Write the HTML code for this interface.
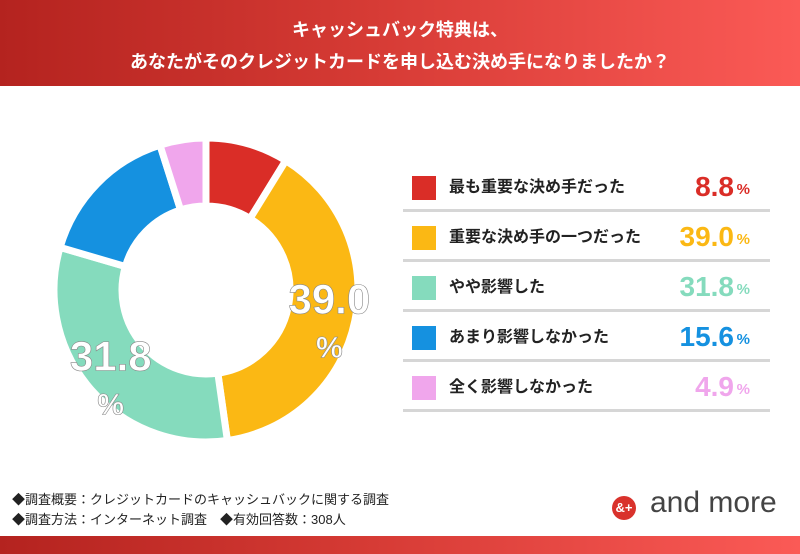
<!DOCTYPE html>
<html><head><meta charset="utf-8"><style>
body{margin:0;width:800px;height:554px;overflow:hidden;background:#fff;font-family:"Liberation Sans","Noto Sans CJK JP",sans-serif;position:relative}
.hdr{position:absolute;left:0;top:0;width:800px;height:86px;background:linear-gradient(90deg,#b4231f,#d53a34 45%,#fb5a56);color:#fff;text-align:center;font-weight:bold;font-size:18px;line-height:32px;padding-top:14px;box-sizing:border-box}
.bot{position:absolute;left:0;top:536px;width:800px;height:18px;background:linear-gradient(90deg,#b4231f,#d53a34 45%,#fb5a56)}
.row{position:absolute;left:403px;width:367px;height:50px;border-bottom:3px solid #d6d6d6;box-sizing:border-box}
.sw{position:absolute;left:9px;top:14px;width:24px;height:24px}
.lb{position:absolute;left:46px;top:14px;font-size:16px;font-weight:bold;color:#222;line-height:24px}
.v{position:absolute;right:36px;top:9px;font-size:28px;font-weight:bold;line-height:32px;font-family:"Liberation Sans",sans-serif}
.p{position:absolute;right:20px;top:18px;font-size:15px;font-weight:bold;line-height:20px}
.ft{position:absolute;left:12px;font-size:13px;color:#222}
</style></head><body>
<div class="hdr">キャッシュバック特典は、<br>あなたがそのクレジットカードを申し込む決め手になりましたか？</div>
<svg id="pie" width="400" height="460" style="position:absolute;left:0;top:86px"></svg>
<div id="legend"></div>
<div class="ft" style="top:489px">◆調査概要：クレジットカードのキャッシュバックに関する調査</div>
<div class="ft" style="top:509px">◆調査方法：インターネット調査　◆有効回答数：308人</div>
<div style="position:absolute;left:612px;top:496px">
<div style="position:absolute;left:0;top:0;width:24px;height:24px;border-radius:50%;background:#d9322c;color:#fff;font-size:13px;font-weight:bold;text-align:center;line-height:24px">&amp;+</div>
<div style="position:absolute;left:38px;top:-10px;font-size:30px;color:#444;white-space:nowrap">and more</div></div>
<div class="bot"></div>
<script>
const categories=["最も重要な決め手だった","重要な決め手の一つだった","やや影響した","あまり影響しなかった","全く影響しなかった"];
const values=[8.8,39.0,31.8,15.6,4.9];
const colors=["#da2d27","#fbb814","#85dbbd","#1591e0","#f0a6ec"];
const labelTexts=["8.8","39.0","31.8","15.6","4.9"];
const NS="http://www.w3.org/2000/svg";
const svg=document.getElementById('pie');
const cx=206,cy=204,R=152,r=84;
const total=values.reduce((a,b)=>a+b,0);
function pt(rad,a){return [cx+rad*Math.sin(a),cy-rad*Math.cos(a)];}
let acc=0;
values.forEach((v,i)=>{
  const a0=acc/total*2*Math.PI,a1=(acc+v)/total*2*Math.PI;acc+=v;
  const lg=(a1-a0)>Math.PI?1:0;
  const [x0,y0]=pt(R,a0),[x1,y1]=pt(R,a1),[x2,y2]=pt(r,a1),[x3,y3]=pt(r,a0);
  const p=document.createElementNS(NS,'path');
  p.setAttribute('d',`M${x0},${y0}A${R},${R} 0 ${lg} 1 ${x1},${y1}L${x2},${y2}A${r},${r} 0 ${lg} 0 ${x3},${y3}Z`);
  p.setAttribute('fill',colors[i]);p.setAttribute('stroke','#fff');p.setAttribute('stroke-width','7');
  
  
  svg.appendChild(p);
  if(v>30){
    const am=(a0+a1)/2;const [lx,ly]=pt((R+r)/2+8,am);
    const t=document.createElementNS(NS,'text');
    t.setAttribute('x',lx);t.setAttribute('y',ly-2);t.setAttribute('text-anchor','middle');
    t.setAttribute('font-size','42');t.setAttribute('font-weight','bold');t.setAttribute('fill','#fff');
    t.setAttribute('stroke','#888');t.setAttribute('stroke-width','0.6');
    t.setAttribute('font-family','Liberation Sans, sans-serif');t.textContent=labelTexts[i];
    
    
    svg.appendChild(t);
    const t2=document.createElementNS(NS,'text');
    t2.setAttribute('x',lx);t2.setAttribute('y',ly+42);t2.setAttribute('text-anchor','middle');
    t2.setAttribute('font-size','30');t2.setAttribute('font-weight','bold');t2.setAttribute('fill','#fff');
    t2.setAttribute('stroke','#888');t2.setAttribute('stroke-width','0.6');t2.textContent='%';
    
    
    svg.appendChild(t2);
  }
});
const lg=document.getElementById('legend');
categories.forEach((c,i)=>{
  const d=document.createElement('div');d.className='row';d.style.top=(162+i*50)+'px';
  
  
  d.innerHTML=`<div class="sw" style="background:${colors[i]}"></div><div class="lb">${c}</div><div class="v" style="color:${colors[i]}">${values[i].toFixed(1)}</div><div class="p" style="color:${colors[i]}">%</div>`;
  lg.appendChild(d);
});
</script>
</body></html>
